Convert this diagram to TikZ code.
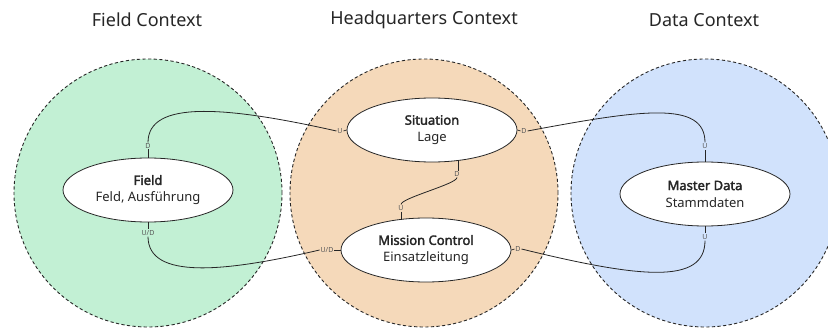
\documentclass[tikz,border=0pt]{standalone}
\usepackage{fontspec}
\setmainfont{Noto Sans}[AutoFakeBold=2.2]
\usetikzlibrary{shapes.geometric}
\begin{document}
\begin{tikzpicture}[x=1pt,y=-1pt,
  ctx/.style={circle, draw=black!85, dash pattern=on 3.2pt off 2.4pt, line width=0.9pt, minimum size=268pt, inner sep=0pt},
  ctxtitle/.style={font=\fontsize{18}{20}\selectfont, text=black!85},
  bc/.style={ellipse, draw=black!85, fill=white, line width=0.8pt, minimum width=170pt, minimum height=64pt, inner sep=0pt, align=center, font=\fontsize{13}{17}\selectfont, text=black!85},
  port/.style={inner sep=0.8pt, font=\fontsize{7}{7}\selectfont, text=black!65},
  tick/.style={draw=black!85, line width=0.7pt},
  rel/.style={draw=black!85, line width=0.8pt}]
\useasboundingbox (0,0) rectangle (828,329);

% bounded contexts
\node[ctx, fill={rgb,255:red,194;green,240;blue,212}] (fieldctx) at (148,193) {};
\node[ctx, fill={rgb,255:red,245;green,217;blue,186}] (hqctx) at (424,193) {};
\node[ctx, fill={rgb,255:red,209;green,226;blue,252}] (datactx) at (705,193) {};

\node[ctxtitle] (t1) at (147,20) {Field Context};
\node[ctxtitle] (t2) at (424,20) {Headquarters Context};
\node[ctxtitle] (t3) at (704,20) {Data Context};

% domain objects
\node[bc] (field) at (148,190) {\textbf{Field}\\Feld, Ausführung};
\node[bc] (sit) at (432,130) {\textbf{Situation}\\Lage};
\node[bc] (mc) at (426,250) {\textbf{Mission Control}\\Einsatzleitung};
\node[bc] (md) at (705,194) {\textbf{Master Data}\\Stammdaten};

% port labels
\node[port] (fD) at (148,146) {D};
\node[port] (fUD) at (148,233) {U/D};
\node[port] (sU) at (340,131) {U};
\node[port] (sDb) at (457,174) {D};
\node[port] (sDr) at (524,131) {D};
\node[port] (mcU) at (401,208) {U};
\node[port] (mcUD) at (327,250) {U/D};
\node[port] (mcD) at (518,249) {D};
\node[port] (mdUt) at (705,146) {U};
\node[port] (mdUb) at (705,237) {U};

% port ticks
\coordinate (sbt) at (458,160.5);
\coordinate (mct) at (401,219.5);
\draw[tick] (field.north) -- (fD.south);
\draw[tick] (field.south) -- (fUD.north);
\draw[tick] (sU.east) -- (sit.west);
\draw[tick] (sbt) -- (sDb.north -| sbt);
\draw[tick] (sit.east) -- (sDr.west);
\draw[tick] (mcU.south) -- (mct);
\draw[tick] (mcUD.east) -- (mc.west);
\draw[tick] (mc.east) -- (mcD.west);
\draw[tick] (md.north) -- (mdUt.south);
\draw[tick] (md.south) -- (mdUb.north);

% relationships
\draw[rel] (fD.north) .. controls (148,100) and (225,106) .. (sU.west);
\draw[rel] (fUD.south) .. controls (148,280) and (225,272) .. (mcUD.west);
\draw[rel] (sDb.south) .. controls (457,184) and (401,198) .. (mcU.north);
\draw[rel] (sDr.east) .. controls (640,110) and (705,100) .. (mdUt.north);
\draw[rel] (mcD.east) .. controls (640,278) and (705,285) .. (mdUb.south);
\end{tikzpicture}
\end{document}
